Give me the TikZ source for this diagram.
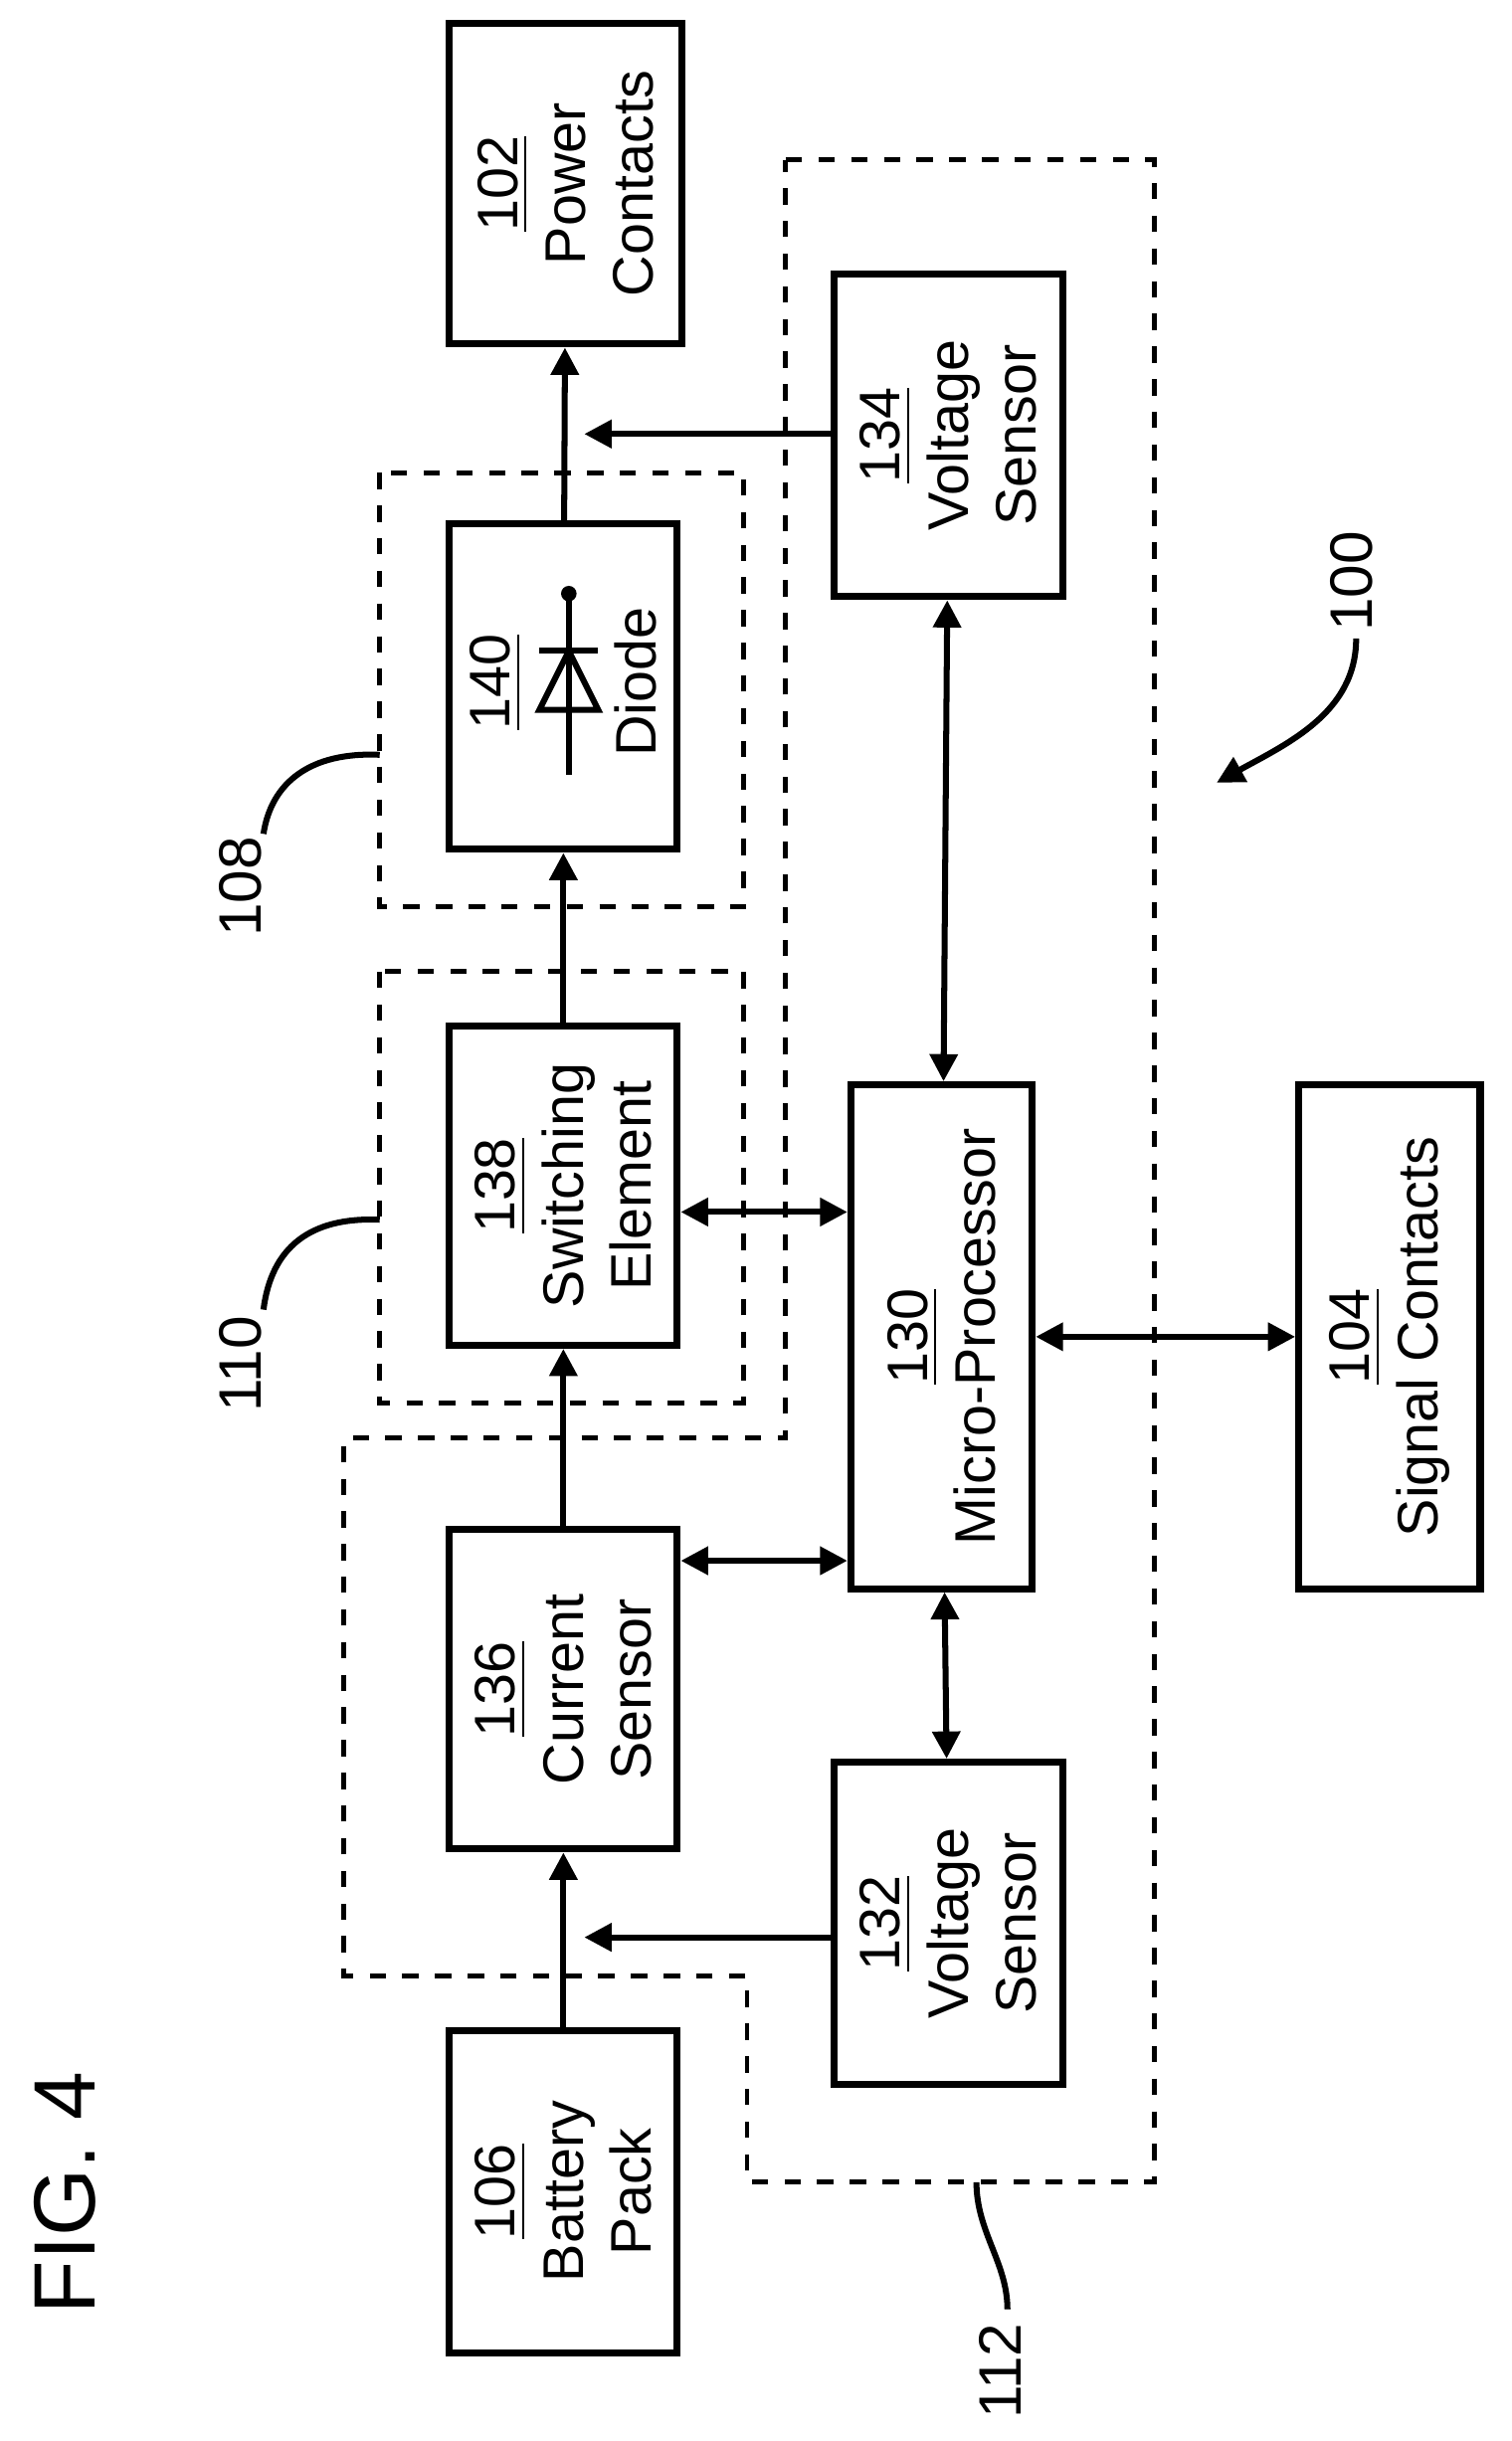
\documentclass[tikz,border=0pt]{standalone}
\usepackage{fontspec}
\setmainfont{Liberation Sans}
\usetikzlibrary{arrows.meta}
\tikzset{
  box/.style={draw,line width=1.3pt,rotate=90,align=center,font=\fontsize{10.5}{12.5}\selectfont},
  group/.style={draw,dashed,line width=0.9pt},
  lbl/.style={rotate=90,font=\fontsize{10.5}{12.5}\selectfont},
}
\begin{document}
\begin{tikzpicture}[>={Triangle[length=5pt,width=5pt]},line width=1.1pt]
   \useasboundingbox (0,0) rectangle (9.75,-15.75);
   % dashed groups
   \draw[group] (2.45,-3.05) rectangle (4.8,-5.85);
   \draw[group] (2.45,-6.27) rectangle (4.8,-9.05);
   \draw[group] (5.07,-1.03) -- (7.45,-1.03) -- (7.45,-14.08) -- (4.82,-14.08) -- (4.82,-12.75)
      -- (2.22,-12.75) -- (2.22,-9.28) -- (5.07,-9.28) -- cycle;
   % blocks
   \node[box,minimum width=2.07cm,minimum height=1.5cm] (pc) at (3.65,-1.185) {\underline{102}\\Power\\Contacts};
   \node[box,minimum width=2.1cm,minimum height=1.47cm] (diode) at (3.635,-4.43) {};
   \node[box,minimum width=2.06cm,minimum height=1.47cm] (sw) at (3.635,-7.65) {\underline{138}\\Switching\\Element};
   \node[box,minimum width=2.06cm,minimum height=1.47cm] (cur) at (3.635,-10.9) {\underline{136}\\Current\\Sensor};
   \node[box,minimum width=2.08cm,minimum height=1.47cm] (bat) at (3.635,-14.14) {\underline{106}\\Battery\\Pack};
   \node[box,minimum width=2.08cm,minimum height=1.48cm] (vsa) at (6.12,-2.81) {\underline{134}\\Voltage\\Sensor};
   \node[box,minimum width=3.25cm,minimum height=1.17cm] (mp) at (6.075,-8.625) {\underline{130}\\Micro-Processor};
   \node[box,minimum width=2.08cm,minimum height=1.48cm] (vsb) at (6.12,-12.41) {\underline{132}\\Voltage\\Sensor};
   \node[box,minimum width=3.25cm,minimum height=1.17cm] (sc) at (8.965,-8.625) {\underline{104}\\Signal Contacts};
   % diode symbol
   \node[lbl] (dnum) at (3.2,-4.4) {\underline{140}};
   \node[lbl] (dtxt) at (4.1,-4.4) {Diode};
   \fill (3.67,-3.83) circle (0.05);
   \draw (3.67,-3.83) -- (3.67,-5.0);
   \draw (3.48,-4.2) -- (3.86,-4.2);
   \draw (3.67,-4.2) -- (3.48,-4.58) -- (3.86,-4.58) -- cycle;
   % connectors
   \coordinate (ja) at (3.77,-2.8);
   \coordinate (jb) at (3.77,-12.5);
   \draw[->] (bat) -- (cur);
   \draw[->] (cur) -- (sw);
   \draw[->] (sw) -- (diode);
   \draw[->] (diode) -- (pc);
   \draw[->] (vsa.north|-ja) -- (ja);
   \draw[->] (vsb.north|-jb) -- (jb);
   \draw[<->] (vsa) -- (mp);
   \draw[<->] (mp) -- (vsb);
   \draw[<->] (mp) -- (sc);
   \draw[<->] (sw.south|-0,-7.82) -- (mp.north|-0,-7.82);
   \draw[<->] (cur.south|-0,-10.07) -- (mp.north|-0,-10.07);
   % reference labels
   \node[lbl,font=\fontsize{11}{13}\selectfont] (n108) at (1.55,-5.72) {108};
   \draw (2.45,-4.87) .. controls (2.0,-4.85) and (1.75,-5.05) .. (1.7,-5.38);
   \node[lbl,font=\fontsize{11}{13}\selectfont] (n110) at (1.55,-8.8) {110};
   \draw (2.45,-7.87) .. controls (2.0,-7.85) and (1.75,-8.05) .. (1.7,-8.45);
   \node[lbl,font=\fontsize{11}{13}\selectfont] (n112) at (6.45,-15.3) {112};
   \draw (6.3,-14.08) .. controls (6.3,-14.4) and (6.5,-14.6) .. (6.5,-14.9);
   \node[lbl,font=\fontsize{11}{13}\selectfont] (n100) at (8.72,-3.75) {100};
   \draw[->] (8.75,-4.12) .. controls (8.75,-4.6) and (8.3,-4.8) .. (7.85,-5.05);
   \node[lbl,font=\fontsize{16}{18}\selectfont] (fig) at (0.42,-14.15) {FIG. 4};
\end{tikzpicture}
\end{document}
